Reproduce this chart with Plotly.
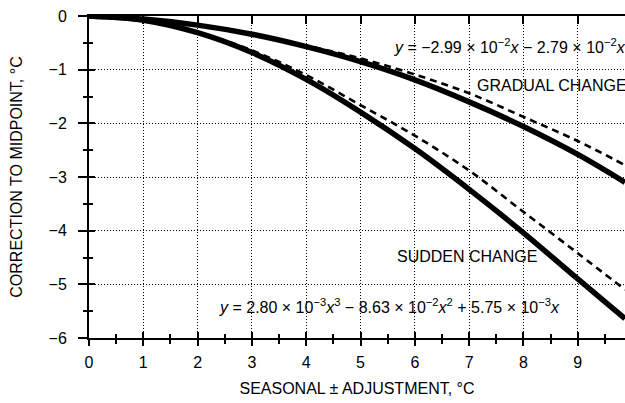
import plotly.graph_objects as go

# ---- data ----
x_vals = [0, 1, 2, 3, 4, 5, 6, 7, 8, 9, 9.87]
gradual_solid = [0, -0.058, -0.17, -0.34, -0.57, -0.85, -1.19, -1.60, -2.06, -2.58, -3.10]
gradual_dashed = [0, -0.058, -0.17, -0.33, -0.55, -0.79, -1.09, -1.44, -1.88, -2.33, -2.78]
sudden_solid = [0, -0.078, -0.31, -0.68, -1.18, -1.79, -2.47, -3.23, -4.04, -4.90, -5.64]
sudden_dashed = [0, -0.075, -0.30, -0.64, -1.10, -1.66, -2.23, -2.88, -3.65, -4.42, -5.10]

x_ticks = [0, 1, 2, 3, 4, 5, 6, 7, 8, 9]
y_ticks = [0, -1, -2, -3, -4, -5, -6]

x_title = "SEASONAL ± ADJUSTMENT, °C"
y_title = "CORRECTION TO MIDPOINT, °C"
gradual_eq = "<i>y</i> = −2.99 × 10<sup>−2</sup><i>x</i> − 2.79 × 10<sup>−2</sup><i>x</i><sup>2</sup>"
sudden_eq = ("<i>y</i> = 2.80 × 10<sup>−3</sup><i>x</i><sup>3</sup> − 8.63 × 10<sup>−2</sup>"
             "<i>x</i><sup>2</sup> + 5.75 × 10<sup>−3</sup><i>x</i>")

XMAX = 9.87
FONT = "Liberation Sans, Arial, sans-serif"
FS = 16

fig = go.Figure()

for ys, dash, w in [(gradual_dashed, "7px,5px", 2.6), (sudden_dashed, "7px,5px", 2.6),
                    (gradual_solid, "solid", 5.5), (sudden_solid, "solid", 5.5)]:
    fig.add_trace(go.Scatter(x=x_vals, y=ys, mode="lines",
                             line=dict(color="black", width=w, dash=dash, shape="spline"),
                             showlegend=False, hoverinfo="skip"))

# dummy traces to realise the overlay axes
fig.add_trace(go.Scatter(x=[], y=[], xaxis="x2", yaxis="y", showlegend=False))
fig.add_trace(go.Scatter(x=[], y=[], xaxis="x3", yaxis="y", showlegend=False))
fig.add_trace(go.Scatter(x=[], y=[], xaxis="x", yaxis="y2", showlegend=False))

common_grid = dict(gridcolor="black", gridwidth=1, griddash="1px,2px")

fig.update_layout(
    width=625, height=403,
    margin=dict(l=89, r=0, t=16, b=65),
    paper_bgcolor="white", plot_bgcolor="white",
    font=dict(family=FONT, size=FS, color="black"),
    xaxis=dict(range=[0, XMAX], tickvals=x_ticks, showgrid=True, **common_grid,
               zeroline=False, showline=True, linecolor="black", linewidth=2,
               ticks="outside", ticklen=6, tickwidth=1.5, tickcolor="black",
               minor=dict(dtick=0.5, tick0=0, ticks="outside", ticklen=4, tickwidth=1.5,
                          tickcolor="black", showgrid=False),
               tickfont=dict(size=FS), ticklabelstandoff=3,
               title=dict(text=x_title, font=dict(size=FS), standoff=13)),
    xaxis2=dict(range=[0, XMAX], overlaying="x", anchor="y", side="bottom",
                showgrid=False, zeroline=False, showticklabels=False,
                tickvals=x_ticks, ticks="inside", ticklen=6, tickwidth=1.5, tickcolor="black",
                minor=dict(dtick=0.5, tick0=0, ticks="inside", ticklen=4, tickwidth=1.5,
                           tickcolor="black", showgrid=False)),
    xaxis3=dict(range=[0, XMAX], overlaying="x", anchor="y", side="top",
                showgrid=False, zeroline=False, showticklabels=False,
                showline=True, linecolor="black", linewidth=2,
                tickvals=x_ticks, ticks="inside", ticklen=8, tickwidth=1.5, tickcolor="black"),
    yaxis=dict(range=[-6, 0], tickvals=y_ticks, showgrid=True, **common_grid,
               zeroline=False, showline=True, linecolor="black", linewidth=2,
               ticks="outside", ticklen=9, tickwidth=1.5, tickcolor="black",
               minor=dict(dtick=0.5, tick0=0, ticks="outside", ticklen=4, tickwidth=1.5,
                          tickcolor="black", showgrid=False),
               tickfont=dict(size=FS), ticklabelstandoff=8,
               title=dict(text=y_title, font=dict(size=FS), standoff=22)),
    yaxis2=dict(range=[-6, 0], overlaying="y", anchor="x", side="left",
                showgrid=False, zeroline=False, showticklabels=False,
                tickvals=y_ticks, ticks="inside", ticklen=6, tickwidth=1.5, tickcolor="black",
                minor=dict(dtick=0.5, tick0=0, ticks="inside", ticklen=4, tickwidth=1.5,
                           tickcolor="black", showgrid=False)),
)

annots = [
    (gradual_eq, 5.58, -0.56),
    ("GRADUAL CHANGE", 7.11, -1.29),
    ("SUDDEN CHANGE", 5.64, -4.49),
    (sudden_eq, 2.36, -5.40),
]
for text, ax, ay in annots:
    fig.add_annotation(x=ax, y=ay, xref="x", yref="y", text=text, showarrow=False,
                       xanchor="left", yanchor="middle",
                       font=dict(family=FONT, size=FS, color="black"),
                       bgcolor="rgba(0,0,0,0)")

fig.write_html("out.html")
